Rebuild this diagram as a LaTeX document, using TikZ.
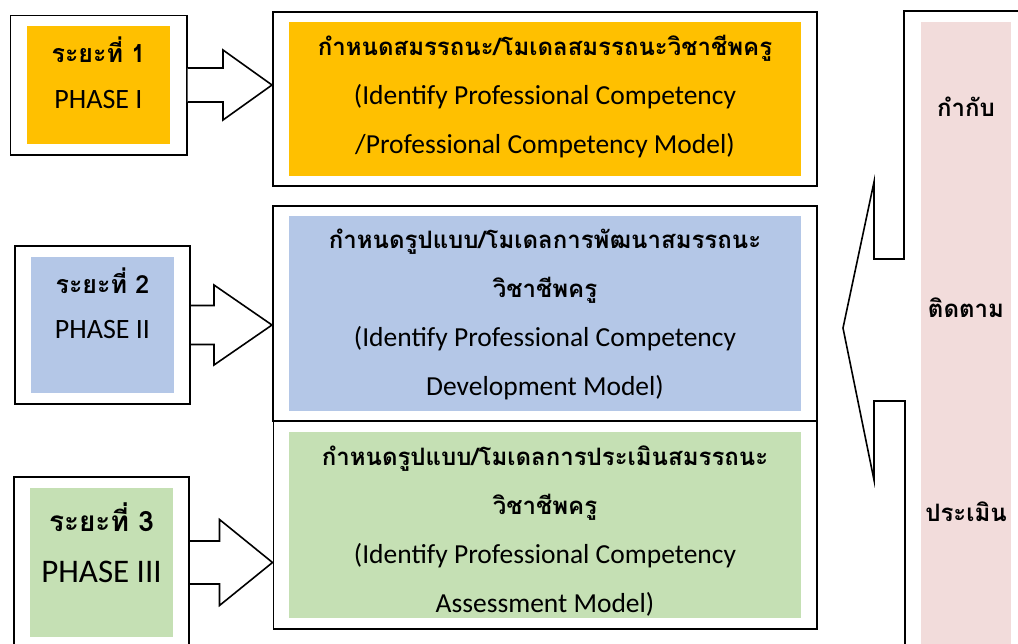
\documentclass[tikz,border=0pt]{standalone}
\usepackage{fontspec}
\setmainfont{Carlito}
\newfontfamily\thaifont[Script=Thai]{Loma}
\usetikzlibrary{calc,fit}

\definecolor{phaseone}{HTML}{FFC000}
\definecolor{phasetwo}{HTML}{B4C7E7}
\definecolor{phasethree}{HTML}{C5E0B4}
\definecolor{ctlpink}{HTML}{F2DCDB}

\tikzset{
  frame/.style={draw=black,line width=1.6pt,inner sep=0pt},
  fillbox/.style={inner sep=0pt},
  tasktext/.style={inner sep=0pt,align=center,font=\fontsize{27.5}{49}\selectfont},
  blockarrow/.style={draw=black,line width=1.6pt,fill=white,line join=miter},
  phasetext/.style={inner sep=0pt,font=\fontsize{#1}{#1}\selectfont},
  thaitext/.style={inner sep=0pt,font=\thaifont\bfseries\fontsize{#1}{#1}\selectfont},
}
\newcommand{\thb}[1]{{\thaifont\bfseries\fontsize{24}{49}\selectfont #1}}
% block arrow from a phase frame to a task frame: stem, head, head length
\newcommand{\phasearrow}[5]{%
  \draw[blockarrow] ($(#1.east)+(0,-#3)$)
    -- ($(#1.east -| #2.west)+(-#5,-#3)$) -- ($(#1.east -| #2.west)+(-#5,-#4)$)
    -- (#1.east -| #2.west)
    -- ($(#1.east -| #2.west)+(-#5,#4)$) -- ($(#1.east -| #2.west)+(-#5,#3)$)
    -- ($(#1.east)+(0,#3)$);}

\begin{document}
\begin{tikzpicture}[x=1pt,y=-1pt]
  \useasboundingbox (0,0) rectangle (1018,643);

  % phases
  \node[fillbox,fill=phaseone,minimum width=143,minimum height=118] (p1) at (98.5,85) {};
  \node[frame,fit=(p1),inner xsep=16.5,inner ysep=10.5] (f1) {};
  \node[thaitext=25] (p1a) at (98.5,50) {ระยะที่ 1};
  \node[phasetext=28] (p1b) at (98.5,100) {PHASE I};

  \node[fillbox,fill=phasetwo,minimum width=143,minimum height=136] (p2) at (102.5,325) {};
  \node[frame,fit=(p2),inner xsep=16,inner ysep=11] (f2) {};
  \node[thaitext=25] (p2a) at (102.5,281) {ระยะที่ 2};
  \node[phasetext=28] (p2b) at (102.5,330) {PHASE II};

  \node[fillbox,fill=phasethree,minimum width=143,minimum height=149] (p3) at (101.5,562.5) {};
  \node[frame,fit=(p3),inner xsep=16,inner ysep=11] (f3) {};
  \node[thaitext=28] (p3a) at (101.5,517) {ระยะที่ 3};
  \node[phasetext=33] (p3b) at (101.5,572) {PHASE III};

  % tasks
  \node[fillbox,fill=phaseone,minimum width=512,minimum height=154] (m1) at (545,99) {};
  \node[frame,fit=(m1),inner xsep=16,inner ysep=10] (g1) {};
  \node[tasktext] (m1t) at ($(m1)+(0,-2)$)
    {\thb{กำหนดสมรรถนะ/โมเดลสมรรถนะวิชาชีพครู}\\(Identify Professional Competency\\/Professional Competency Model)};

  \node[fillbox,fill=phasetwo,minimum width=512,minimum height=195] (m2) at (545,313.5) {};
  \node[frame,fit=(m2),inner xsep=16,inner ysep=10] (g2) {};
  \node[tasktext] (m2t) at ($(m2)+(0,1)$)
    {\thb{กำหนดรูปแบบ/โมเดลการพัฒนาสมรรถนะ}\\\thb{วิชาชีพครู}\\(Identify Professional Competency\\Development Model)};

  \node[fillbox,fill=phasethree,minimum width=512,minimum height=186] (m3) at (545,525) {};
  \node[frame,fit=(m3),inner xsep=15.5,inner ysep=10.5] (g3) {};
  \node[tasktext] (m3t) at ($(m3)+(0,6)$)
    {\thb{กำหนดรูปแบบ/โมเดลการประเมินสมรรถนะ}\\\thb{วิชาชีพครู}\\(Identify Professional Competency\\Assessment Model)};

  \phasearrow{f1}{g1}{17}{35}{49}
  \phasearrow{f2}{g2}{19.5}{40}{58}
  \phasearrow{f3}{g3}{21.5}{43}{53}

  % control
  \draw[blockarrow,fill=none] (1030,11) -- (904,11) -- (904,259) -- (874,259)
    -- (874,182) -- (843,328) -- (874,480) -- (874,401) -- (905,401) -- (905,660);
  \node[fill=ctlpink,minimum width=90,minimum height=640,anchor=north west,inner sep=0pt] (ctl) at (921,22) {};
  \node[thaitext=24] (c1) at (966,107) {กำกับ};
  \node[thaitext=24] (c2) at (966,308) {ติดตาม};
  \node[thaitext=24] (c3) at (966,512) {ประเมิน};
\end{tikzpicture}
\end{document}
